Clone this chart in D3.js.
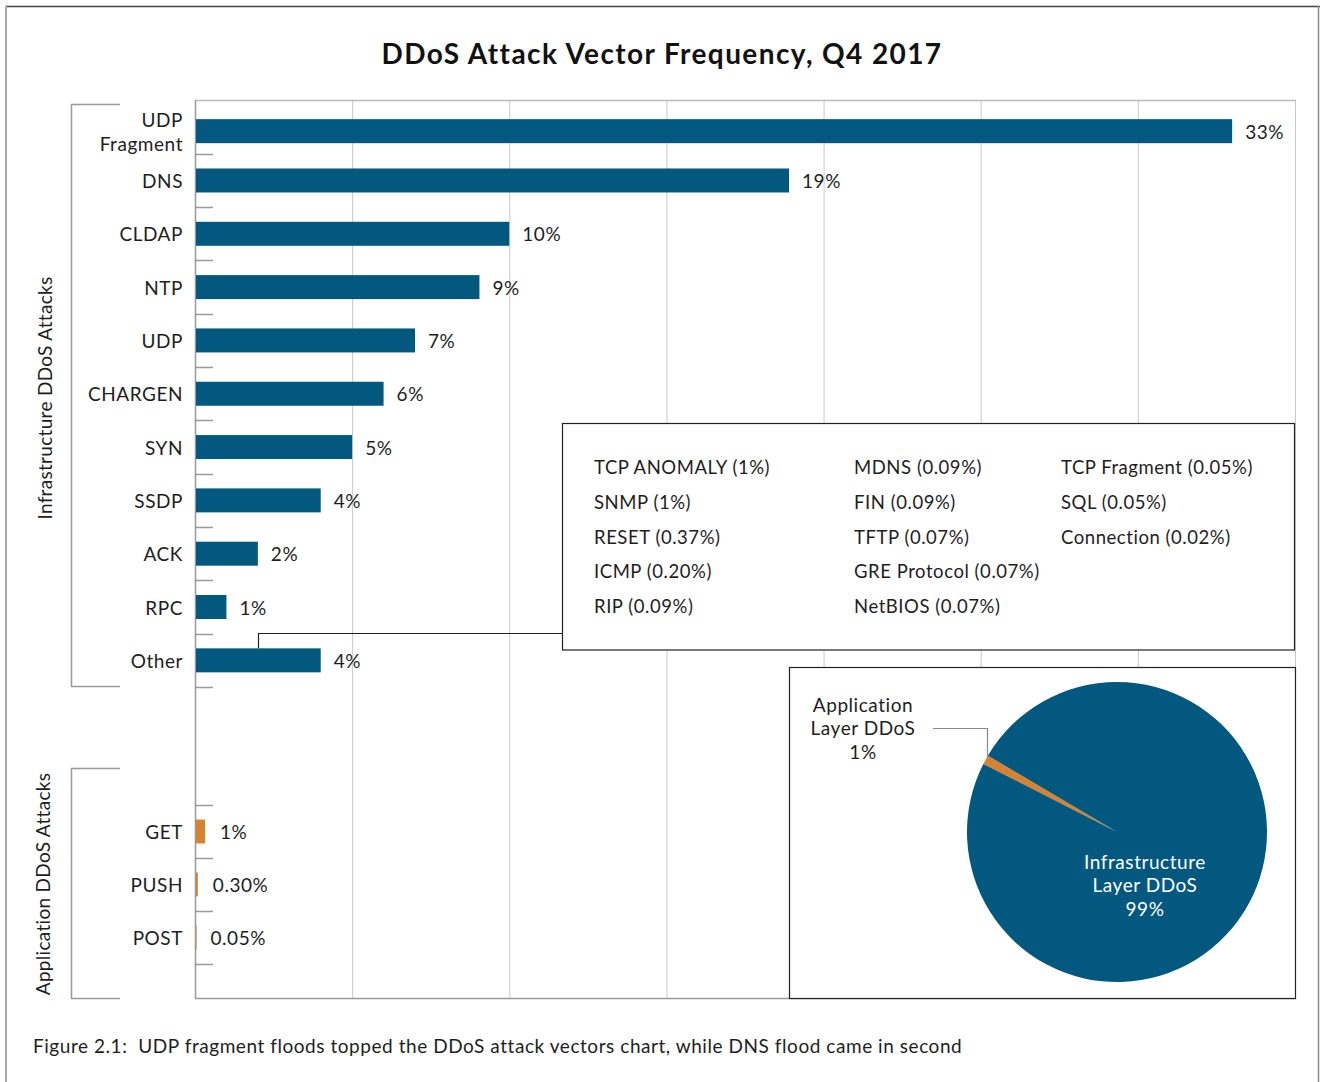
<!DOCTYPE html>
<html>
<head>
<meta charset="utf-8">
<script src="https://cdn.jsdelivr.net/npm/d3@7"></script>
<style>
  html, body { margin: 0; padding: 0; background: #fff; }
  svg { display: block; font-family: Lato, "Open Sans", sans-serif; }
  svg text { letter-spacing: 0.55px; }
</style>
</head>
<body>
<svg id="chart" width="1320" height="1082"></svg>
<script>
// ---------- data ----------
const title = "DDoS Attack Vector Frequency, Q4 2017";
const caption = "Figure 2.1:  UDP fragment floods topped the DDoS attack vectors chart, while DNS flood came in second";

const infraCategories = ["UDP Fragment", "DNS", "CLDAP", "NTP", "UDP", "CHARGEN", "SYN", "SSDP", "ACK", "RPC", "Other"];
const infraValues = [33.0, 18.9, 10.0, 9.05, 7.0, 6.0, 5.0, 4.0, 2.0, 1.0, 4.0];
const infraLabels = ["33%", "19%", "10%", "9%", "7%", "6%", "5%", "4%", "2%", "1%", "4%"];

const appCategories = ["GET", "PUSH", "POST"];
const appValues = [0.32, 0.09, 0.015];
const appLabels = ["1%", "0.30%", "0.05%"];

const xTicks = [0, 5, 10, 15, 20, 25, 30, 35];

const groupNames = ["Infrastructure DDoS Attacks", "Application DDoS Attacks"];

const otherCol1 = ["TCP ANOMALY (1%)", "SNMP (1%)", "RESET (0.37%)", "ICMP (0.20%)", "RIP (0.09%)"];
const otherCol2 = ["MDNS (0.09%)", "FIN (0.09%)", "TFTP (0.07%)", "GRE Protocol (0.07%)", "NetBIOS (0.07%)"];
const otherCol3 = ["TCP Fragment (0.05%)", "SQL (0.05%)", "Connection (0.02%)"];

const pieNames = [["Application", "Layer DDoS", "1%"], ["Infrastructure", "Layer DDoS", "99%"]];
const pieValues = [1, 99];

// ---------- styles ----------
const BLUE = "#03587f";
const ORANGE = "#d8822f";
const TEXT = "#1e1e1e";
const FS = 19;

const svg = d3.select("#chart");

// outer frame
svg.append("line").attr("x1", 5).attr("x2", 1320).attr("y1", 6.5).attr("y2", 6.5).attr("stroke", "#444").attr("stroke-width", 1.5);
svg.append("line").attr("x1", 6).attr("x2", 6).attr("y1", 6).attr("y2", 1082).attr("stroke", "#aaa").attr("stroke-width", 2);
svg.append("line").attr("x1", 1318.5).attr("x2", 1318.5).attr("y1", 6).attr("y2", 1082).attr("stroke", "#888").attr("stroke-width", 1.5);

// title
svg.append("text").attr("x", 662).attr("y", 53).attr("text-anchor", "middle").attr("dominant-baseline", "central")
  .attr("font-size", 28).attr("font-weight", 700).attr("fill", "#111").style("letter-spacing", "1.4px").text(title);

// scales
const plotL = 195, plotR = 1295, plotT = 100, plotB = 999;
const x = d3.scaleLinear().domain([0, 35]).range([plotL, plotR]);
const pad = 0.55;
const yInfra = d3.scaleBand().domain(infraCategories).range([100.5, 687]).paddingInner(pad).paddingOuter(pad / 2);
const yApp = d3.scaleBand().domain(appCategories).range([805, 964]).paddingInner(pad).paddingOuter(pad / 2);

// grid
const g = svg.append("g");
g.selectAll("line.grid").data(xTicks.slice(1)).join("line")
  .attr("x1", d => x(d) + 0.5).attr("x2", d => x(d) + 0.5)
  .attr("y1", plotT).attr("y2", plotB)
  .attr("stroke", "#c8c8c8").attr("stroke-width", 1);
g.append("line").attr("x1", plotL).attr("x2", plotR + 1).attr("y1", plotT + 0.5).attr("y2", plotT + 0.5).attr("stroke", "#bbb").attr("stroke-width", 1.5);
g.append("line").attr("x1", plotL).attr("x2", x(35) + 1).attr("y1", plotB - 0.5).attr("y2", plotB - 0.5).attr("stroke", "#999").attr("stroke-width", 1.5);
g.append("line").attr("x1", plotL + 0.5).attr("x2", plotL + 0.5).attr("y1", plotT).attr("y2", plotB).attr("stroke", "#999").attr("stroke-width", 1.5);

// category ticks (band boundaries)
function boundaries(scale, includeFirst) {
  const dom = scale.domain();
  const step = scale.step();
  const out = [];
  dom.forEach((d, i) => {
    const c = scale(d) + scale.bandwidth() / 2;
    if (i === 0 && includeFirst) out.push(c - step / 2);
    out.push(c + step / 2);
  });
  return out;
}
const tickYs = boundaries(yInfra, false).concat(boundaries(yApp, true));
g.selectAll("line.ctick").data(tickYs).join("line")
  .attr("x1", plotL).attr("x2", plotL + 18)
  .attr("y1", d => Math.round(d) + 0.5).attr("y2", d => Math.round(d) + 0.5)
  .attr("stroke", "#999").attr("stroke-width", 1.5);

// bars
function drawGroup(cats, vals, labs, yScale, color, labelOffset, firstShift) {
  const data = cats.map((c, i) => ({ c, v: vals[i], l: labs[i], s: i === 0 ? firstShift : 0 }));
  svg.append("g").selectAll("rect").data(data).join("rect")
    .attr("x", plotL + 1).attr("y", d => yScale(d.c) + d.s)
    .attr("width", d => Math.max(0.6, x(d.v) - plotL - 1)).attr("height", yScale.bandwidth())
    .attr("fill", color);
  svg.append("g").selectAll("text").data(data).join("text")
    .attr("x", d => x(d.v) + labelOffset).attr("y", d => yScale(d.c) + yScale.bandwidth() / 2 + d.s)
    .attr("dominant-baseline", "central").attr("font-size", FS).attr("fill", TEXT).text(d => d.l);
  const lg = svg.append("g");
  data.forEach(d => {
    const words = d.c === "UDP Fragment" ? ["UDP", "Fragment"] : [d.c];
    const cy = yScale(d.c) + yScale.bandwidth() / 2 + d.s;
    words.forEach((w, i) => {
      lg.append("text").attr("x", 183).attr("y", cy + (i - (words.length - 1) / 2) * 24)
        .attr("text-anchor", "end").attr("dominant-baseline", "central")
        .attr("font-size", FS).attr("fill", TEXT).text(w);
    });
  });
}
drawGroup(infraCategories, infraValues, infraLabels, yInfra, BLUE, 13, 4);
drawGroup(appCategories, appValues, appLabels, yApp, ORANGE, 15, 0);

// group brackets
const brackets = [[104.5, 686.5, 44, 398], [768.5, 998.5, 42, 884]];
brackets.forEach((b, i) => {
  svg.append("path").attr("d", `M120,${b[0]}H71.5V${b[1]}H120`).attr("fill", "none").attr("stroke", "#999").attr("stroke-width", 1.5);
  svg.append("text").attr("transform", `translate(${b[2]},${b[3]}) rotate(-90)`)
    .attr("text-anchor", "middle").attr("dominant-baseline", "central")
    .attr("font-size", FS).attr("fill", TEXT).style("letter-spacing", "0.3px").text(groupNames[i]);
});

// connector from "Other" to legend box
const otherTop = yInfra("Other");
svg.append("path").attr("d", `M258.5,${otherTop}V633.5H563`).attr("fill", "none").attr("stroke", "#222").attr("stroke-width", 1.2);

// "Other" breakdown box
svg.append("rect").attr("x", 562.5).attr("y", 423.5).attr("width", 732).attr("height", 226.5)
  .attr("fill", "#fff").attr("stroke", "#222").attr("stroke-width", 1.2);
const colX = [594, 854, 1061];
[otherCol1, otherCol2, otherCol3].forEach((col, ci) => {
  svg.append("g").selectAll("text").data(col).join("text")
    .attr("x", colX[ci]).attr("y", (d, i) => 467 + i * 34.8)
    .attr("dominant-baseline", "central").attr("font-size", 18.5).attr("fill", TEXT).text(d => d);
});

// pie box
svg.append("rect").attr("x", 789.5).attr("y", 667.5).attr("width", 506).attr("height", 331)
  .attr("fill", "#fff").attr("stroke", "#222").attr("stroke-width", 1.2);

const cx = 1117, cy = 832, r = 150;
const a0 = 297 * Math.PI / 180;
const pie = d3.pie().sort(null).startAngle(a0).endAngle(a0 + 2 * Math.PI);
const arcs = pie(pieValues);
const arc = d3.arc().innerRadius(0).outerRadius(r);
const pg = svg.append("g").attr("transform", `translate(${cx},${cy})`);
pg.selectAll("path").data(arcs).join("path").attr("d", arc).attr("fill", (d, i) => i === 0 ? ORANGE : BLUE);

// pie leader line
svg.append("path").attr("d", "M933,728.5H987.5V757").attr("fill", "none").attr("stroke", "#888").attr("stroke-width", 1.2);

// pie labels
const pieLabelPos = [[863, 704, TEXT], [1145, 861, "#fff"]];
pieNames.forEach((lines, i) => {
  lines.forEach((t, j) => {
    svg.append("text").attr("x", pieLabelPos[i][0]).attr("y", pieLabelPos[i][1] + j * 23.8)
      .attr("text-anchor", "middle").attr("dominant-baseline", "central")
      .attr("font-size", FS).attr("fill", pieLabelPos[i][2]).text(t);
  });
});

// caption
svg.append("text").attr("x", 33).attr("y", 1045).attr("dominant-baseline", "central")
  .attr("font-size", FS).attr("fill", TEXT).style("white-space", "pre").text(caption);
</script>
</body>
</html>
